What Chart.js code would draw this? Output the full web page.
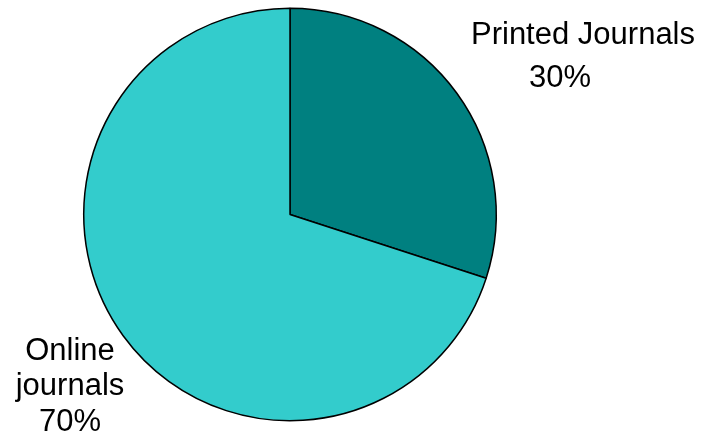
<!DOCTYPE html>
<html>
<head>
<meta charset="utf-8">
<script src="https://cdn.jsdelivr.net/npm/chart.js@4/dist/chart.umd.min.js"></script>
<style>
  html, body { margin: 0; padding: 0; background: #fff; }
  #wrap { width: 706px; height: 440px; }
</style>
</head>
<body>
<div id="wrap"><canvas id="myChart" width="706" height="440"></canvas></div>
<script>
const categories = ["Printed Journals", "Online journals"];
const shares = [30, 70];
const colors = ["#008080", "#33CCCC"];

// label lines placed next to the pie, as in the original figure
const labelLines = [
  { text: "Printed Journals", x: 583, y: 44 },
  { text: "30%", x: 560, y: 87 },
  { text: "Online", x: 70, y: 360 },
  { text: "journals", x: 70, y: 395 },
  { text: "70%", x: 70, y: 431 }
];

const labelPlugin = {
  id: "sideLabels",
  afterDraw(chart) {
    const ctx = chart.ctx;
    ctx.save();
    ctx.font = "31px 'Liberation Sans', Arial, sans-serif";
    ctx.fillStyle = "#000";
    ctx.textAlign = "center";
    ctx.textBaseline = "alphabetic";
    labelLines.forEach(l => ctx.fillText(l.text, l.x, l.y));
    ctx.restore();
  }
};

new Chart(document.getElementById("myChart"), {
  type: "pie",
  data: {
    labels: categories,
    datasets: [{
      data: shares,
      backgroundColor: colors,
      borderColor: "#000",
      borderWidth: 1.5
    }]
  },
  options: {
    responsive: false,
    animation: false,
    layout: { padding: { left: 83, right: 209, top: 7, bottom: 18 } },
    plugins: {
      legend: { display: false },
      tooltip: { enabled: false }
    }
  },
  plugins: [labelPlugin]
});
</script>
</body>
</html>
